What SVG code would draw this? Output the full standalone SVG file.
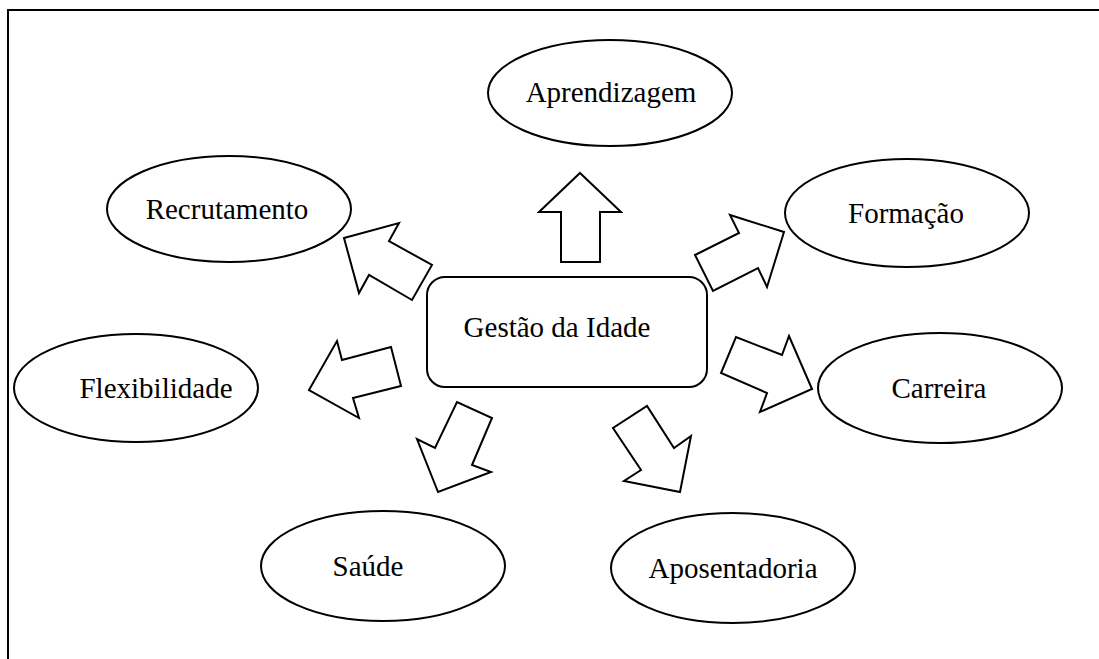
<svg xmlns="http://www.w3.org/2000/svg" width="1099" height="659" viewBox="0 0 1099 659">
<style>
.n{fill:#fff;stroke:#000;stroke-width:2}
.a{fill:#fff;stroke:#000;stroke-width:2;stroke-linejoin:miter}
.t{font-family:"Liberation Serif","Times New Roman",serif;font-size:29px;fill:#000;text-anchor:middle}
</style>
<rect width="1099" height="659" fill="#fff"/>
<path d="M8 659V10H1099" fill="none" stroke="#000" stroke-width="2"/>
<g id="connectors">
<polygon class="a" points="580,173 621,212 600,212 600,262 561,262 561,212 539,212"/>
<polygon class="a" points="344,238 399,223 389,241 432,265 412,300 369,275 359,293"/>
<polygon class="a" points="309,390 337,341 342,360 391,347 401,386 353,398 359,418"/>
<polygon class="a" points="438,492 417,439 435,448 457,402 492,418 472,465 491,472"/>
<polygon class="a" points="680,492 691,436 674,448 647,406 613,428 641,470 624,481"/>
<polygon class="a" points="812,389 789,336 782,355 736,337 721,373 767,393 760,412"/>
<polygon class="a" points="784,232 730,215 739,233 695,255 713,291 758,268 767,287"/>
</g>
<g id="gestao">
<rect class="n" x="427" y="277" width="280" height="110" rx="18"/>
<text class="t" x="557" y="337">Gestão da Idade</text>
</g>
<g id="aprendizagem">
<ellipse class="n" cx="610" cy="93" rx="122" ry="53"/>
<text class="t" x="611" y="102">Aprendizagem</text>
</g>
<g id="recrutamento">
<ellipse class="n" cx="229" cy="209" rx="122" ry="53"/>
<text class="t" x="227" y="219">Recrutamento</text>
</g>
<g id="formacao">
<ellipse class="n" cx="907" cy="213" rx="122" ry="54"/>
<text class="t" x="906" y="223">Formação</text>
</g>
<g id="flexibilidade">
<ellipse class="n" cx="136" cy="388" rx="122" ry="54"/>
<text class="t" x="156" y="398">Flexibilidade</text>
</g>
<g id="carreira">
<ellipse class="n" cx="940" cy="388" rx="122" ry="55"/>
<text class="t" x="939" y="398">Carreira</text>
</g>
<g id="saude">
<ellipse class="n" cx="383" cy="566" rx="122" ry="55"/>
<text class="t" x="368" y="576">Saúde</text>
</g>
<g id="aposentadoria">
<ellipse class="n" cx="733" cy="568" rx="122" ry="55"/>
<text class="t" x="733" y="578">Aposentadoria</text>
</g>
</svg>
